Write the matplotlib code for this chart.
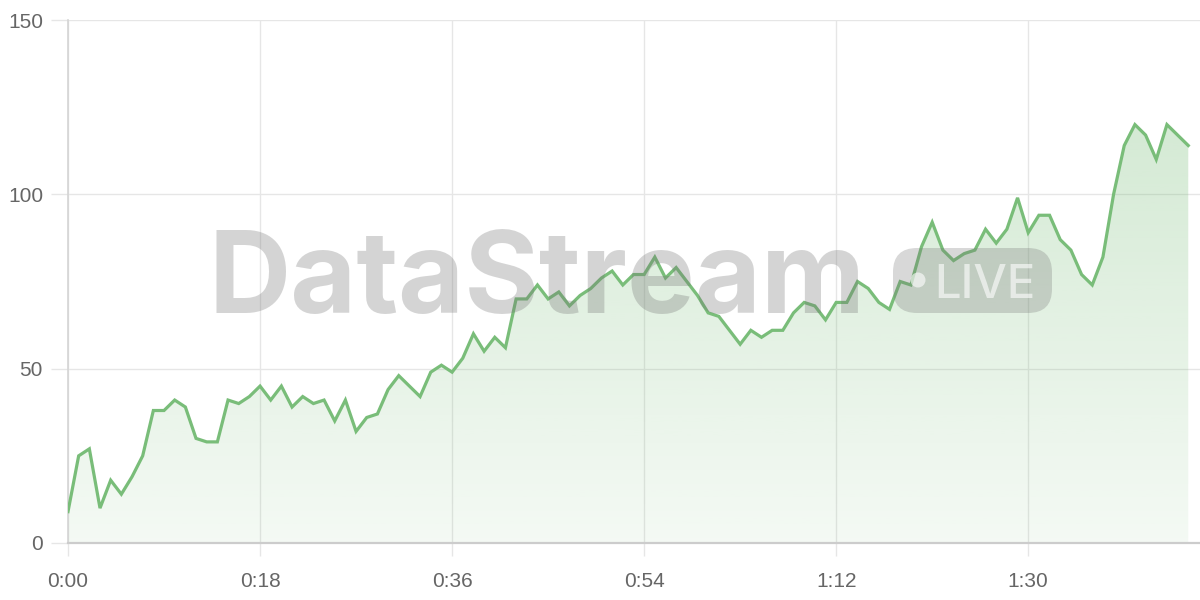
import matplotlib
matplotlib.use("Agg")
import matplotlib.pyplot as plt
import numpy as np
from matplotlib.patches import FancyBboxPatch, Ellipse
import matplotlib.ticker as ticker

# data: one reading per second
values = [9, 25, 27, 10, 18, 14, 19, 25, 38, 38,
          41, 39, 30, 29, 29, 41, 40, 42, 45, 41,
          45, 39, 42, 40, 41, 35, 41, 32, 36, 37,
          44, 48, 45, 42, 49, 51, 49, 53, 60, 55,
          59, 56, 70, 70, 74, 70, 72, 68, 71, 73,
          76, 78, 74, 77, 77, 82, 76, 79, 75, 71,
          66, 65, 61, 57, 61, 59, 61, 61, 66, 69,
          68, 64, 69, 69, 75, 73, 69, 67, 75, 74,
          85, 92, 84, 81, 83, 84, 90, 86, 90, 99,
          89, 94, 94, 87, 84, 77, 74, 82, 100, 114,
          120, 117, 110, 120, 117, 114]
seconds = list(range(len(values)))
x_ticks = [0, 18, 36, 54, 72, 90]
y_ticks = [0, 50, 100, 150]

line_color = "#79bd79"
grid_color = "#e6e6e6"
label_color = "#666666"
plt.rcParams["font.family"] = ["Liberation Sans", "DejaVu Sans"]

fig = plt.figure(figsize=(12, 6), dpi=100)
ax = fig.add_axes([68 / 1200, 57 / 600, 1 - 68 / 1200, 523 / 600])
ax.set_xlim(0, 106.1)
ax.set_ylim(0, 150)

# gradient fill under the line, clipped to the area polygon
poly = ax.fill_between(seconds, values, 0, color="none", lw=0)
grad = np.zeros((256, 1, 4))
grad[:, 0, 0] = 121 / 255
grad[:, 0, 1] = 189 / 255
grad[:, 0, 2] = 121 / 255
grad[:, 0, 3] = np.linspace(0.08, 0.38, 256)
im = ax.imshow(grad, extent=[0, 106.1, 0, 150], origin="lower", aspect="auto", zorder=1)
path = poly.get_paths()[0]
im.set_clip_path(path, transform=ax.transData)

ax.plot(seconds, values, color=line_color, lw=2.3, zorder=3, solid_joinstyle="miter")

# grid and axes
ax.set_xticks(x_ticks)
ax.set_yticks(y_ticks)
ax.xaxis.set_major_formatter(ticker.FuncFormatter(lambda v, p: f"{int(v) // 60}:{int(v) % 60:02d}"))
ax.grid(True, color=grid_color, lw=1, zorder=0)
ax.set_axisbelow(True)
for side in ["top", "right"]:
    ax.spines[side].set_visible(False)
ax.spines["left"].set_color("#d4d4d4")
ax.spines["left"].set_linewidth(1.2)
ax.spines["bottom"].set_color("#cccccc")
ax.spines["bottom"].set_linewidth(1.6)
ax.tick_params(axis="both", colors=grid_color, labelcolor=label_color, labelsize=15, width=1)
ax.tick_params(axis="y", length=12, pad=6)
ax.tick_params(axis="x", length=9, pad=12)

# watermark
fig.text(208 / 1200, 1 - 313 / 600, "DataStream", fontsize=82, fontweight="bold",
         family=["Inter", "DejaVu Sans"], color=(0.45, 0.45, 0.45), alpha=0.3,
         ha="left", va="baseline", zorder=5)
pill = FancyBboxPatch((893 / 1200, 1 - 313 / 600), 159 / 1200, 65 / 600,
                      boxstyle="round,pad=0,rounding_size=0.02", transform=fig.transFigure,
                      facecolor=(0.45, 0.45, 0.45), alpha=0.28, edgecolor="none", zorder=5,
                      mutation_aspect=2)
fig.add_artist(pill)
dot = Ellipse((918 / 1200, 1 - 280 / 600), 15 / 1200, 15 / 600, transform=fig.transFigure,
              facecolor="white", alpha=0.6, edgecolor="none", zorder=6)
fig.add_artist(dot)
fig.text(934 / 1200, 1 - 298 / 600, "LIVE", fontsize=34, fontweight="medium",
         family=["Inter", "DejaVu Sans"], color="white", alpha=0.6,
         ha="left", va="baseline", zorder=6)

fig.savefig("out.png", dpi=100)
